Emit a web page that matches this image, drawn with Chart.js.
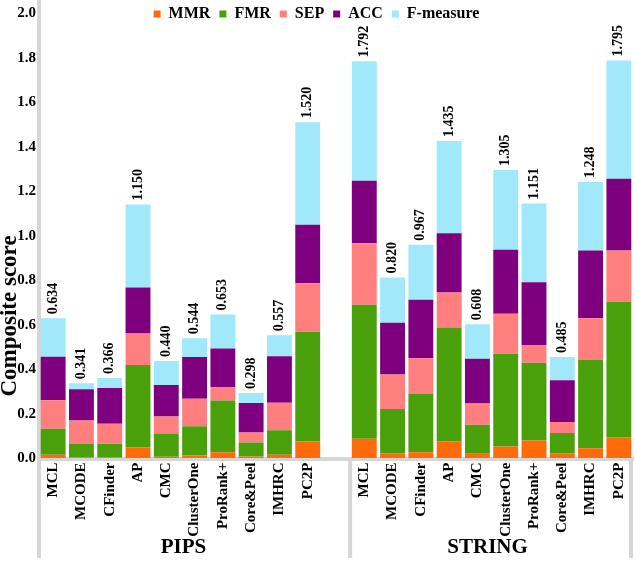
<!DOCTYPE html>
<html>
<head>
<meta charset="utf-8">
<script src="https://cdn.jsdelivr.net/npm/chart.js@4.4.1/dist/chart.umd.min.js"></script>
<style>
    body { margin: 0; background: #fff; }
    #wrap { width: 636px; height: 562px; position: relative; }
</style>
</head>
<body>
<div id="wrap"><canvas id="scoreChart"></canvas></div>
<script>
const algorithms = ['MCL', 'MCODE', 'CFinder', 'AP', 'CMC', 'ClusterOne', 'ProRank+', 'Core&Peel', 'IMHRC', 'PC2P'];
const groupNames = ['PIPS', 'STRING'];
const yTicks = [0, 0.2, 0.4, 0.6, 0.8, 1.0, 1.2, 1.4, 1.6, 1.8, 2.0];

// PIPS segments
const pipsMMR = [0.017, 0.005, 0.006, 0.050, 0.008, 0.014, 0.028, 0.009, 0.017, 0.077];
const pipsFMR = [0.117, 0.060, 0.060, 0.370, 0.104, 0.131, 0.233, 0.063, 0.110, 0.492];
const pipsSEP = [0.128, 0.106, 0.090, 0.141, 0.077, 0.123, 0.060, 0.045, 0.123, 0.218];
const pipsACC = [0.195, 0.140, 0.161, 0.207, 0.141, 0.188, 0.173, 0.132, 0.209, 0.263];
const pipsF   = [0.173, 0.027, 0.045, 0.373, 0.108, 0.084, 0.153, 0.045, 0.095, 0.460];
const pipsTotals = [0.634, 0.341, 0.366, 1.150, 0.440, 0.544, 0.653, 0.298, 0.557, 1.520];

// STRING segments
const stringMMR = [0.089, 0.024, 0.028, 0.077, 0.021, 0.054, 0.081, 0.024, 0.046, 0.095];
const stringFMR = [0.601, 0.198, 0.262, 0.511, 0.131, 0.416, 0.349, 0.090, 0.396, 0.609];
const stringSEP = [0.277, 0.155, 0.160, 0.157, 0.095, 0.180, 0.080, 0.050, 0.188, 0.230];
const stringACC = [0.280, 0.233, 0.263, 0.267, 0.201, 0.287, 0.281, 0.187, 0.304, 0.322];
const stringF   = [0.537, 0.203, 0.247, 0.414, 0.155, 0.359, 0.354, 0.105, 0.308, 0.531];
const stringTotals = [1.792, 0.820, 0.967, 1.435, 0.608, 1.305, 1.151, 0.485, 1.248, 1.795];

const seriesNames = ['MMR', 'FMR', 'SEP', 'ACC', 'F-measure'];
const seriesColors = ['#ff6a0a', '#4aa00a', '#ff7f7f', '#7f007f', '#a0e8fa'];

const frameGray = '#d6d6d6';
const serif = "'Liberation Serif', 'Times New Roman', serif";

// one category axis: PIPS, an empty spacer slot, STRING
function joinGroups(a, b, gap) {
    return a.concat([gap], b);
}
const labels = joinGroups(algorithms, algorithms, '');
const totals = joinGroups(pipsTotals, stringTotals, null);
const pipsSeries = [pipsMMR, pipsFMR, pipsSEP, pipsACC, pipsF];
const stringSeries = [stringMMR, stringFMR, stringSEP, stringACC, stringF];

const datasets = seriesNames.map((name, k) => ({
    label: name,
    data: joinGroups(pipsSeries[k], stringSeries[k], null),
    backgroundColor: seriesColors[k],
    borderWidth: 0,
    barPercentage: 0.88,
    categoryPercentage: 1.0
}));

const decorations = {
    id: 'decorations',
    beforeLayout(chart) {
        // let the legend sit over the top of the plot instead of taking space
        const legend = chart.legend;
        if (legend && !legend._flat) {
            const fit = legend.fit;
            legend.fit = function () {
                fit.call(this);
                this.height = 0;
            };
            legend._flat = true;
        }
    },
    afterLayout(chart) {
        chart.legend.top = -3;
        chart.legend.bottom = 32;
    },
    afterDatasetsDraw(chart) {
        const ctx = chart.ctx;
        const meta = chart.getDatasetMeta(chart.data.datasets.length - 1);
        ctx.save();
        ctx.fillStyle = '#000';
        ctx.font = 'bold 14px ' + serif;
        ctx.textAlign = 'left';
        ctx.textBaseline = 'middle';
        meta.data.forEach((bar, i) => {
            if (totals[i] == null) return;
            ctx.save();
            ctx.translate(bar.x, bar.y - 4);
            ctx.rotate(-Math.PI / 2);
            ctx.fillText(totals[i].toFixed(3), 0, 0);
            ctx.restore();
        });
        ctx.restore();
    },
    afterDraw(chart) {
        const ctx = chart.ctx;
        const area = chart.chartArea;
        const x = chart.scales.x;
        const bottom = 558;
        const half = (x.getPixelForValue(1) - x.getPixelForValue(0)) / 2;

        ctx.save();
        ctx.fillStyle = frameGray;
        const divs = [area.left, x.getPixelForValue(11) - half, area.right - 2];
        divs.forEach(px => ctx.fillRect(px - 2, area.bottom, 4, bottom - area.bottom));

        ctx.fillStyle = '#000';
        ctx.textAlign = 'center';
        ctx.textBaseline = 'middle';
        ctx.font = 'bold 21px ' + serif;
        const pipsMid = (x.getPixelForValue(0) + x.getPixelForValue(9)) / 2;
        const stringMid = (x.getPixelForValue(11) + x.getPixelForValue(20)) / 2;
        ctx.fillText(groupNames[0], pipsMid + 3, 548);
        ctx.fillText(groupNames[1], stringMid - 4, 548);

        // y axis title
        ctx.font = 'bold 23px ' + serif;
        ctx.translate(10, 316);
        ctx.rotate(-Math.PI / 2);
        ctx.fillText('Composite score', 0, 0);
        ctx.restore();
    }
};

const chart = new Chart(document.getElementById('scoreChart'), {
    type: 'bar',
    data: { labels: labels, datasets: datasets },
    plugins: [decorations],
    options: {
        responsive: true,
        maintainAspectRatio: false,
        animation: false,
        layout: { padding: { top: 2, right: 3, bottom: 0, left: 0 } },
        plugins: {
            legend: {
                display: true,
                position: 'top',
                align: 'center',
                labels: {
                    boxWidth: 7,
                    boxHeight: 7,
                    padding: 9,
                    color: '#000',
                    font: { family: serif, size: 16, weight: 'bold' }
                }
            },
            tooltip: { enabled: false }
        },
        scales: {
            x: {
                stacked: true,
                grid: { drawOnChartArea: false, drawTicks: false },
                border: { color: frameGray, width: 4 },
                ticks: {
                    autoSkip: false,
                    maxRotation: 90,
                    minRotation: 90,
                    padding: 4,
                    color: '#000',
                    font: { family: serif, size: 15, weight: 'bold' }
                },
                afterFit(scale) {
                    scale.height = 103.5;
                    scale.paddingLeft = 0;
                    scale.paddingRight = 0;
                }
            },
            y: {
                stacked: true,
                min: 0,
                max: 2.05,
                grid: { drawOnChartArea: false, drawTicks: false },
                border: { color: frameGray, width: 4 },
                ticks: {
                    stepSize: 0.2,
                    padding: 3,
                    color: '#000',
                    font: { family: serif, size: 15, weight: 'bold' },
                    callback: v => v.toFixed(1)
                },
                afterBuildTicks(scale) {
                    scale.ticks = yTicks.map(v => ({ value: v }));
                },
                afterFit(scale) {
                    scale.width = 39;
                    scale.paddingTop = 0;
                    scale.paddingBottom = 0;
                }
            }
        }
    }
});
</script>
</body>
</html>
